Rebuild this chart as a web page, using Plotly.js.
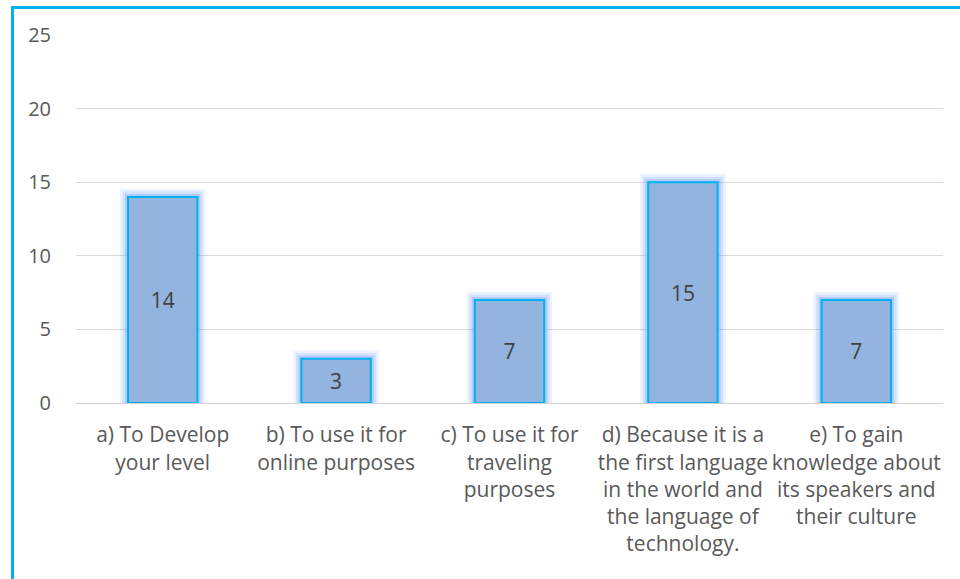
<!DOCTYPE html>
<html>
<head>
<meta charset="utf-8">
<script src="https://cdn.plot.ly/plotly-3.0.1.min.js"></script>
<style>
  html, body { margin: 0; padding: 0; background: #ffffff; }
  #chart { position: absolute; left: 0; top: 0; width: 960px; height: 579px; }
  #frame { position: absolute; left: 11px; top: 6px; width: 960px; height: 600px;
           border-left: 3px solid #00B0F0; border-top: 3px solid #00B0F0; pointer-events: none; }
</style>
</head>
<body>
<div id="chart"></div>
<div id="frame"></div>
<script>
const categories = [
  "a) To Develop<br>your level",
  "b) To use it for<br>online purposes",
  "c) To use it for<br>traveling<br>purposes",
  "d) Because it is a<br>the first language<br>in the world and<br>the language of<br>technology.",
  "e) To gain<br>knowledge about<br>its speakers and<br>their culture"
];
const values = [14, 3, 7, 15, 7];
const yTicks = [0, 5, 10, 15, 20, 25];

const FONT = 'Open Sans, Liberation Sans, sans-serif';

function glowTrace(w, a) {
  return {
    type: 'bar', x: categories, y: values, width: 0.4,
    marker: { color: 'rgba(0,0,0,0)', line: { color: 'rgba(100,150,250,' + a + ')', width: w } },
    hoverinfo: 'skip', showlegend: false
  };
}
const bars = {
  type: 'bar', x: categories, y: values, width: 0.4,
  marker: { color: '#92B4DE', line: { color: '#00B0F0', width: 2 } },
  text: values.map(String), textposition: 'inside', insidetextanchor: 'middle',
  textfont: { family: FONT, size: 21, color: '#404040' },
  hoverinfo: 'skip', showlegend: false
};

const layout = {
  width: 960, height: 579,
  margin: { l: 76, r: 17, t: 35, b: 176, pad: 0 },
  paper_bgcolor: 'rgba(0,0,0,0)', plot_bgcolor: 'rgba(0,0,0,0)',
  barmode: 'overlay',
  font: { family: FONT, color: '#595959', size: 20 },
  xaxis: {
    type: 'category', showgrid: false, ticks: '', showline: true, linecolor: '#D0D0D0', linewidth: 1,
    tickfont: { family: FONT, size: 21, color: '#595959' }, tickangle: 0, automargin: false,
    ticklabelstandoff: 13
  },
  yaxis: {
    range: [0, 25], tickvals: yTicks, ticktext: yTicks.map(String), showgrid: true,
    gridcolor: '#D9D9D9', gridwidth: 1, zeroline: false, showline: false, ticks: '',
    ticklabelstandoff: 24, tickfont: { family: FONT, size: 20, color: '#595959' }, automargin: false
  }
};

Plotly.newPlot('chart', [glowTrace(16, 0.12), glowTrace(11, 0.18), glowTrace(6, 0.3), bars], layout,
  { displayModeBar: false, staticPlot: true });
</script>
</body>
</html>
